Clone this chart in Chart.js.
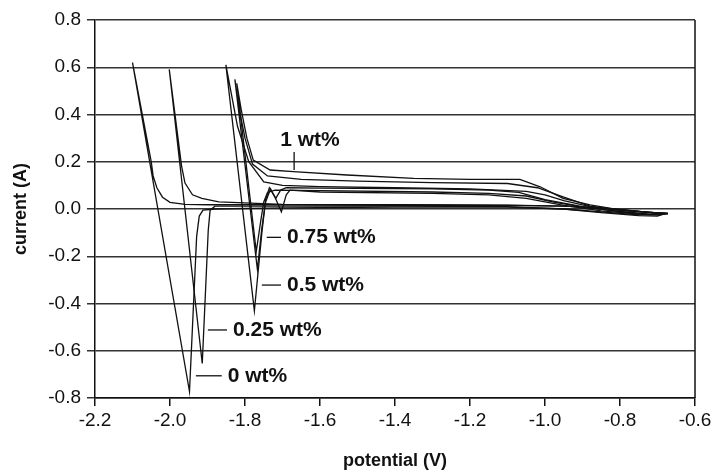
<!DOCTYPE html>
<html>
<head>
<meta charset="utf-8">
<script src="https://cdn.jsdelivr.net/npm/chart.js@4.4.1/dist/chart.umd.min.js"></script>
<style>
  html, body { margin: 0; padding: 0; background: #fff; }
</style>
</head>
<body>
<canvas id="cv" width="716" height="476"></canvas>
<script>
// cyclic voltammograms, one closed loop per concentration
// each loop: starts at the right-hand vertex, runs left along the upper branch,
// over the left vertex, down into the peak and back right along the lower branch

var pot0 = [-0.68, -0.72, -0.78, -0.85, -0.95, -1.10, -1.40, -1.70, -1.90, -1.96, -2.00, -2.02, -2.035, -2.045, -2.05, -2.10,
            -1.948, -1.929, -1.922, -1.912, -1.88, -1.70, -1.40, -1.10, -0.95, -0.85, -0.75, -0.70, -0.68];
var cur0 = [-0.02, -0.015, -0.005, 0.005, 0.012, 0.015, 0.017, 0.018, 0.018, 0.02, 0.028, 0.05, 0.09, 0.14, 0.20, 0.62,
            -0.773, -0.117, -0.03, -0.005, 0.0, 0.005, 0.008, 0.008, 0.0, -0.015, -0.028, -0.03, -0.02];

var pot25 = [-0.68, -0.75, -0.85, -0.95, -1.10, -1.40, -1.70, -1.87, -1.915, -1.94, -1.96, -1.969, -2.002,
             -1.914, -1.898, -1.893, -1.88, -1.70, -1.40, -1.10, -0.95, -0.85, -0.75, -0.68];
var cur25 = [-0.02, -0.01, 0.005, 0.012, 0.016, 0.018, 0.02, 0.03, 0.045, 0.06, 0.11, 0.18, 0.591,
             -0.654, -0.09, -0.005, 0.012, 0.012, 0.012, 0.01, 0.0, -0.012, -0.025, -0.02];

var pot50 = [-0.672, -0.72, -0.80, -0.88, -0.95, -1.00, -1.05, -1.20, -1.40, -1.60, -1.70, -1.75, -1.79, -1.82, -1.851,
             -1.775, -1.755, -1.745, -1.735, -1.72, -1.703, -1.69, -1.68, -1.60, -1.30, -1.15, -1.05, -0.95, -0.85, -0.75, -0.70, -0.672];
var cur50 = [-0.019, -0.014, -0.006, 0.01, 0.035, 0.06, 0.075, 0.085, 0.09, 0.095, 0.10, 0.115, 0.20, 0.35, 0.61,
             -0.431, -0.10, 0.04, 0.09, 0.05, -0.012, 0.06, 0.08, 0.072, 0.066, 0.06, 0.045, 0.015, -0.008, -0.022, -0.026, -0.019];

var pot75 = [-0.672, -0.72, -0.80, -0.88, -0.95, -1.02, -1.10, -1.30, -1.50, -1.65, -1.74, -1.78, -1.80, -1.815, -1.827,
             -1.767, -1.755, -1.745, -1.732, -1.718, -1.705, -1.69, -1.60, -1.30, -1.15, -1.07, -1.00, -0.90, -0.80, -0.72, -0.672];
var cur75 = [-0.019, -0.014, -0.005, 0.012, 0.05, 0.09, 0.108, 0.112, 0.118, 0.125, 0.14, 0.19, 0.30, 0.42, 0.549,
             -0.255, -0.08, 0.03, 0.085, 0.045, 0.08, 0.09, 0.088, 0.085, 0.08, 0.07, 0.04, 0.01, -0.012, -0.024, -0.019];

var pot100 = [-0.672, -0.72, -0.80, -0.88, -0.952, -1.013, -1.067, -1.20, -1.35, -1.528, -1.671, -1.733, -1.778, -1.795, -1.81, -1.822,
              -1.770, -1.758, -1.75, -1.74, -1.72, -1.60, -1.30, -1.15, -1.05, -0.98, -0.90, -0.80, -0.72, -0.672];
var cur100 = [-0.019, -0.014, -0.004, 0.017, 0.045, 0.094, 0.125, 0.125, 0.13, 0.144, 0.158, 0.165, 0.207, 0.30, 0.42, 0.532,
              -0.18, -0.05, 0.03, 0.07, 0.08, 0.078, 0.072, 0.066, 0.055, 0.03, 0.008, -0.01, -0.022, -0.019];

var xTicks = [-2.2, -2.0, -1.8, -1.6, -1.4, -1.2, -1.0, -0.8, -0.6];
var yTicks = [-0.8, -0.6, -0.4, -0.2, 0.0, 0.2, 0.4, 0.6, 0.8];

// curve labels with their leader lines (data coordinates)
var notes = [
  { text: '1 wt%',    x0: -1.669, x1: -1.669, y0: 0.165, y1: 0.241, vertical: true },
  { text: '0.75 wt%', x0: -1.742, x1: -1.704, y0: -0.120, y1: -0.120 },
  { text: '0.5 wt%',  x0: -1.755, x1: -1.704, y0: -0.322, y1: -0.322 },
  { text: '0.25 wt%', x0: -1.899, x1: -1.848, y0: -0.512, y1: -0.512 },
  { text: '0 wt%',    x0: -1.931, x1: -1.862, y0: -0.706, y1: -0.706 }
];

function pts(xs, ys) {
  return xs.map(function (x, i) { return { x: x, y: ys[i] }; });
}

function loop(label, xs, ys) {
  return {
    label: label,
    data: pts(xs, ys),
    showLine: true,
    borderColor: '#111',
    borderWidth: 1.3,
    pointRadius: 0,
    tension: 0
  };
}

var FONT = "'Liberation Sans', Arial, sans-serif";

var notesPlugin = {
  id: 'notes',
  afterDatasetsDraw: function (chart) {
    var c = chart.ctx, xs = chart.scales.x, ys = chart.scales.y, a = chart.chartArea;
    c.save();
    // right frame line
    c.strokeStyle = '#111';
    c.lineWidth = 1.5;
    c.beginPath();
    c.moveTo(a.right, a.top);
    c.lineTo(a.right, a.bottom);
    c.stroke();

    c.font = 'bold 21px ' + FONT;
    c.fillStyle = '#111';
    c.lineWidth = 1.3;
    notes.forEach(function (n) {
      var px0 = xs.getPixelForValue(n.x0), px1 = xs.getPixelForValue(n.x1);
      var py0 = ys.getPixelForValue(n.y0), py1 = ys.getPixelForValue(n.y1);
      c.beginPath();
      c.moveTo(px0, py0);
      c.lineTo(px1, py1);
      c.stroke();
      if (n.vertical) {
        c.textAlign = 'left';
        c.textBaseline = 'bottom';
        c.fillText(n.text, px1 - 14, py1 - 1);
      } else {
        c.textAlign = 'left';
        c.textBaseline = 'middle';
        c.fillText(n.text, px1 + 6, py1);
      }
    });
    c.restore();
  }
};

new Chart(document.getElementById('cv'), {
  type: 'scatter',
  data: {
    datasets: [
      loop('0 wt%', pot0, cur0),
      loop('0.25 wt%', pot25, cur25),
      loop('0.5 wt%', pot50, cur50),
      loop('0.75 wt%', pot75, cur75),
      loop('1 wt%', pot100, cur100)
    ]
  },
  options: {
    responsive: false,
    devicePixelRatio: 1,
    animation: false,
    layout: { padding: { left: 0, right: 21, top: 20, bottom: 0 } },
    plugins: { legend: { display: false }, tooltip: { enabled: false } },
    scales: {
      x: {
        type: 'linear',
        min: xTicks[0],
        max: xTicks[xTicks.length - 1],
        afterBuildTicks: function (s) { s.ticks = xTicks.map(function (v) { return { value: v }; }); },
        afterFit: function (s) { s.height = 78; },
        grid: { drawOnChartArea: false, drawTicks: true, tickLength: 8, color: '#111', lineWidth: 1.5 },
        border: { display: true, color: '#111', width: 1.5 },
        ticks: {
          color: '#111',
          padding: 3,
          maxRotation: 0,
          font: { family: FONT, size: 19 },
          callback: function (v) { return Number(v).toFixed(1); }
        },
        title: {
          display: true,
          text: 'potential (V)',
          color: '#111',
          font: { family: FONT, size: 18, weight: 'bold' },
          padding: { top: 0, bottom: 4 }
        }
      },
      y: {
        type: 'linear',
        min: yTicks[0],
        max: yTicks[yTicks.length - 1],
        afterBuildTicks: function (s) { s.ticks = yTicks.map(function (v) { return { value: v }; }); },
        afterFit: function (s) { s.width = 95; },
        grid: { drawOnChartArea: true, drawTicks: true, tickLength: 8, color: '#333', lineWidth: 1.5 },
        border: { display: true, color: '#111', width: 1.5 },
        ticks: {
          color: '#111',
          padding: 6,
          font: { family: FONT, size: 19 },
          callback: function (v) { return Math.abs(v) < 1e-9 ? '0.0' : Number(v).toFixed(1); }
        },
        title: {
          display: true,
          text: 'current (A)',
          color: '#111',
          font: { family: FONT, size: 18, weight: 'bold' },
          padding: { top: 10, bottom: 0 }
        }
      }
    }
  },
  plugins: [notesPlugin]
});
</script>
</body>
</html>
